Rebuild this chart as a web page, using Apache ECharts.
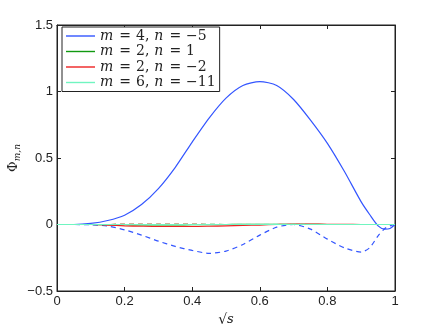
<!DOCTYPE html>
<html><head><meta charset="utf-8">
<script src="https://cdn.jsdelivr.net/npm/echarts@6/dist/echarts.min.js"></script>
<style>html,body{margin:0;padding:0;background:#fff}#c{width:436px;height:328px}</style>
</head><body><div id="c"></div>
<script>
// sample positions (sqrt s)
const xs = [0,0.05,0.1,0.15,0.2,0.25,0.3,0.35,0.4,0.45,0.5,0.55,0.6,0.65,0.7,0.75,0.8,0.85,0.9,0.925,0.95,0.97,0.985,1];
// m=4, n=-5
const blueRe = [0,0,0.008,0.03,0.07,0.15,0.27,0.43,0.62,0.80,0.95,1.045,1.075,1.045,0.94,0.785,0.61,0.40,0.17,0.075,-0.01,-0.035,-0.03,0];
const blueIm = [0,0,-0.002,-0.012,-0.04,-0.08,-0.125,-0.165,-0.195,-0.217,-0.2,-0.15,-0.08,-0.02,0.0,-0.035,-0.11,-0.175,-0.207,-0.175,-0.085,-0.03,-0.01,0];
// m=2, n=1
const greenRe = [0,0,0,-0.001,-0.002,-0.003,-0.003,-0.003,-0.002,-0.001,0,0.001,0.002,0.002,0.002,0.001,0,0,0,0,0,0,0,0];
const greenIm = [0,0,0,0,0.001,0.001,0.001,0.001,0.001,0.001,0,0,0,0,0,0,0,0,0,0,0,0,0,0];
// m=2, n=-2
const redRe = [0,0,0,-0.004,-0.01,-0.013,-0.015,-0.015,-0.015,-0.013,-0.01,-0.007,-0.004,0,0.003,0.003,0.002,0.001,0,0,0,0,0,0];
const redIm = [0,0,0,0,0.001,0.002,0.002,0.002,0.001,0,0,0,0,0,0,0,0,0,0,0,0,0,0,0];
// m=6, n=-11
const cyanRe = [0,0,0,0,0,0,0,0,0,0,0,0,0,0,0,0,0,0,0,0,0,0,0,0];
const cyanIm = [0,0,0,0,0,0,0,0,0,0,0,0.001,0.002,0.002,0.001,0,0,0,0,0,0,0,0,0];
const xTicks = [0,0.2,0.4,0.6,0.8,1];
const yTicks = [-0.5,0,0.5,1,1.5];
const names = ['m = 4, n = −5','m = 2, n = 1','m = 2, n = −2','m = 6, n = −11'];
const legendParts = [['4','−5'],['2','1'],['2','−2'],['6','−11']];
const colors = ['#3355ff','#119911','#ee2222','#70f5c0'];

const pts = a => xs.map((x,i)=>[x,a[i]]);
const series = [];
const pairs = [[blueRe,blueIm],[greenRe,greenIm],[redRe,redIm],[cyanRe,cyanIm]];
pairs.forEach((p,k)=>{
  series.push({name:names[k],type:'line',data:pts(p[0]),smooth:0.25,showSymbol:false,symbol:'none',
    lineStyle:{color:colors[k],width:1.2},itemStyle:{color:colors[k]},z:2+k});
  series.push({name:names[k]+' im',type:'line',data:pts(p[1]),smooth:0.25,showSymbol:false,symbol:'none',
    lineStyle:{color:colors[k],width:1.2,type:[5,4]},itemStyle:{color:colors[k]},z:2+k});
});
const fmt = v => String(v).replace('-','−');
const ax = {fontFamily:'Liberation Sans',fontSize:13,color:'#222'};
const line = {show:true,onZero:false,lineStyle:{color:'#222'}};
const tick = {inside:true,length:4,lineStyle:{color:'#222'}};
const serif = 'DejaVu Serif';
const chart = echarts.init(document.getElementById('c'),null,{renderer:'canvas'});
chart.setOption({
  animation:false,
  grid:{left:57,right:41,top:25,bottom:37,containLabel:false,outerBoundsMode:'none',show:true,borderColor:'#222',borderWidth:1,backgroundColor:'transparent'},
  xAxis:[{type:'value',min:0,max:1,interval:0.2,position:'bottom',
    axisLine:line,axisTick:tick,
    axisLabel:Object.assign({margin:4,formatter:fmt},ax),splitLine:{show:false},
    name:'{r|√}{i|s}',nameLocation:'middle',nameGap:22,
    nameTextStyle:{fontFamily:serif,rich:{r:{fontFamily:serif,fontSize:14,color:'#222'},i:{fontFamily:serif,fontStyle:'italic',fontSize:13,color:'#222'}}}},
   {type:'value',min:0,max:1,interval:0.2,position:'top',axisLine:line,
    axisTick:tick,axisLabel:{show:false},splitLine:{show:false}}],
  yAxis:[{type:'value',min:-0.5,max:1.5,interval:0.5,position:'left',
    axisLine:line,axisTick:tick,
    axisLabel:Object.assign({margin:4,formatter:fmt},ax),splitLine:{show:false},
    name:'{r|Φ}{s|m,n}',nameLocation:'middle',nameGap:35,nameRotate:90,nameMoveOverlap:false,
    nameTextStyle:{fontFamily:serif,rich:{r:{fontFamily:serif,fontSize:13,color:'#222'},s:{fontFamily:serif,fontStyle:'italic',fontSize:9,color:'#222',padding:[7,0,0,0]}}}},
   {type:'value',min:-0.5,max:1.5,interval:0.5,position:'right',axisLine:line,
    axisTick:tick,axisLabel:{show:false},splitLine:{show:false}}],
  legend:{data:names,orient:'vertical',left:62,top:27,itemWidth:29,itemHeight:10,itemGap:1.5,
    padding:[2,4,2,4],borderColor:'#222',borderWidth:1,backgroundColor:'#fff',
    icon:'path://M0,4.3L29,4.3L29,5.7L0,5.7Z',
    formatter:function(n){const k=names.indexOf(n);const p=legendParts[k];return '{i|m}{e|=}{c|'+p[0]+',}{i|n}{e|=}{r|'+p[1]+'}';},
    textStyle:{fontFamily:serif,fontSize:14,color:'#222',rich:{
      i:{fontFamily:serif,fontStyle:'italic',fontSize:14,lineHeight:16,color:'#222'},
      e:{fontFamily:serif,fontSize:14,lineHeight:16,color:'#222',padding:[0,5,0,6]},
      c:{fontFamily:serif,fontSize:14,lineHeight:16,color:'#222',padding:[0,5,0,0]},
      r:{fontFamily:serif,fontSize:14,lineHeight:16,color:'#222'}}}},
  series:series
});
</script></body></html>
